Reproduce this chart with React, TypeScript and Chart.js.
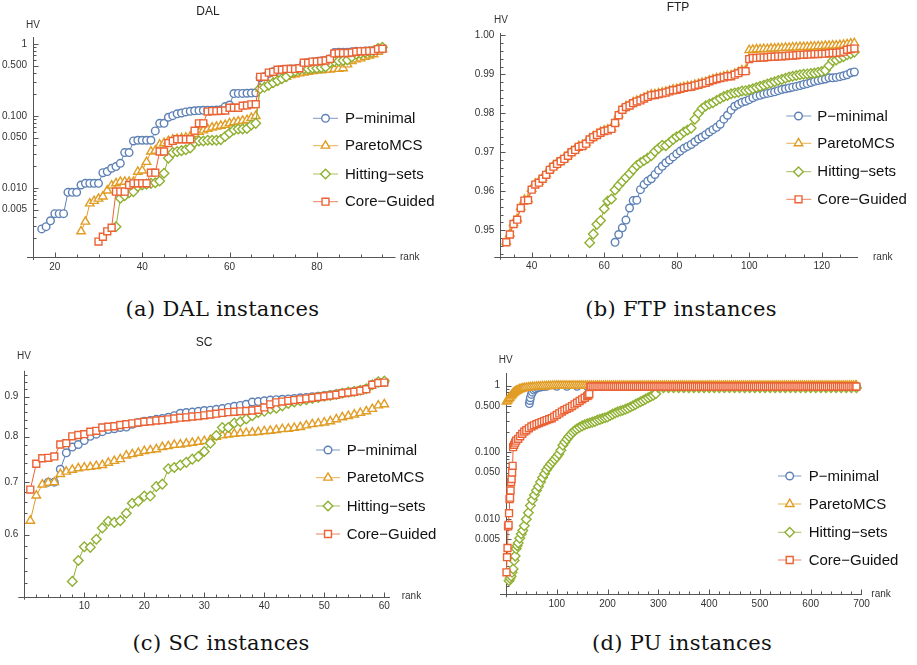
import React, { useEffect, useRef } from "react";
import { Chart, registerables } from "chart.js";

Chart.register(...registerables);

const SANS = '"Liberation Sans", Arial, Helvetica, sans-serif';
const SERIF = '"DejaVu Serif", "Liberation Serif", serif';
const AXIS_COLOR = "#555555";
const TICK_TEXT = "#333333";
const X_AXIS_H = 20;

const SERIES_NAMES = ["P−minimal", "ParetoMCS", "Hitting−sets", "Core−Guided"];
const SERIES_COLORS = ["#5E81B5", "#E19C24", "#8FB032", "#EB6235"];
const SERIES_SHAPES = ["circle", "triangle", "rectRot", "rect"];
const SERIES_RADII = [3.8, 4.9, 4.8, 4.9];

// ---------------- DAL ----------------
const dalPminStart = 17;
const dalPmin = [
  0.0027, 0.0029, 0.0035, 0.0044, 0.0044, 0.0044, 0.0087, 0.0087, 0.0087, 0.011,
  0.0116, 0.0116, 0.0116, 0.0116, 0.0163, 0.0169, 0.0188, 0.0198, 0.022, 0.031,
  0.031, 0.045, 0.046, 0.046, 0.046, 0.046, 0.062, 0.079, 0.079, 0.096,
  0.101, 0.107, 0.11, 0.114, 0.116, 0.118, 0.119, 0.12, 0.12, 0.12,
  0.121, 0.122, 0.135, 0.142, 0.205, 0.206, 0.206, 0.207, 0.208, 0.21,
  0.34, 0.35, 0.39, 0.41, 0.43, 0.44, 0.44, 0.45, 0.45, 0.46,
  0.54, 0.55, 0.56, 0.57, 0.58, 0.59, 0.62, 0.76, 0.77, 0.77,
  0.77, 0.78, 0.79, 0.79, 0.8, 0.8, 0.81, 0.84, 0.85,
];
const dalParetoStart = 26;
const dalPareto = [
  0.0025, 0.0034, 0.0061, 0.0066, 0.0071, 0.0076, 0.0092, 0.0108, 0.0116, 0.0122,
  0.0122, 0.0122, 0.0122, 0.0168, 0.0175, 0.023, 0.032, 0.033, 0.04, 0.042,
  0.045, 0.047, 0.048, 0.049, 0.05, 0.052, 0.056, 0.06, 0.063, 0.066,
  0.069, 0.071, 0.073, 0.075, 0.079, 0.082, 0.084, 0.086, 0.088, 0.094,
  0.1, 0.24, 0.25, 0.27, 0.29, 0.31, 0.33, 0.35, 0.37, 0.38,
  0.39, 0.4, 0.41, 0.42, 0.43, 0.43, 0.44, 0.44, 0.45, 0.45,
  0.46, 0.52, 0.58, 0.61, 0.63, 0.66, 0.69, 0.72, 0.78, 0.84,
];
const dalHittingStart = 34;
const dalHitting = [
  0.0029, 0.0072, 0.0078, 0.0086, 0.0089, 0.0105, 0.011, 0.0113, 0.0116, 0.0118,
  0.0125, 0.016, 0.026, 0.031, 0.032, 0.033, 0.034, 0.036, 0.043, 0.045,
  0.045, 0.046, 0.046, 0.046, 0.047, 0.052, 0.058, 0.064, 0.066, 0.066,
  0.067, 0.075, 0.079, 0.24, 0.25, 0.27, 0.29, 0.31, 0.33, 0.35,
  0.4, 0.42, 0.44, 0.45, 0.45, 0.46, 0.46, 0.47, 0.48, 0.55,
  0.57, 0.58, 0.59, 0.6, 0.66, 0.72, 0.74, 0.76, 0.78, 0.8,
  0.87, 0.9,
];
const dalCoreStart = 30;
const dalCore = [
  0.0018, 0.0021, 0.0025, 0.0028, 0.0089, 0.0089, 0.0089, 0.011, 0.0116, 0.0116,
  0.0116, 0.0116, 0.0163, 0.0163, 0.032, 0.032, 0.042, 0.045, 0.0475, 0.0475,
  0.0475, 0.0475, 0.0625, 0.079, 0.079, 0.115, 0.117, 0.117, 0.118, 0.119,
  0.13, 0.13, 0.13, 0.139, 0.14, 0.145, 0.146, 0.35, 0.35, 0.4,
  0.41, 0.44, 0.44, 0.45, 0.45, 0.45, 0.46, 0.55, 0.55, 0.57,
  0.57, 0.58, 0.59, 0.62, 0.74, 0.75, 0.75, 0.75, 0.76, 0.78,
  0.79, 0.79, 0.8, 0.8, 0.85, 0.86,
];

// ---------------- FTP ----------------
const ftpPminStart = 63;
const ftpPmin = [
  0.9469, 0.9489, 0.9506, 0.9526, 0.9557, 0.9576, 0.9577, 0.9604, 0.9617, 0.9626,
  0.9632, 0.9643, 0.9654, 0.9664, 0.9673, 0.968, 0.9688, 0.9696, 0.9703, 0.971,
  0.9715, 0.972, 0.9727, 0.9734, 0.9739, 0.9745, 0.9752, 0.9758, 0.9764, 0.9772,
  0.9785, 0.9795, 0.9808, 0.9818, 0.9823, 0.9828, 0.9831, 0.9835, 0.984, 0.9844,
  0.9846, 0.9849, 0.9851, 0.9853, 0.9855, 0.9858, 0.9861, 0.9863, 0.9865, 0.9867,
  0.9869, 0.9871, 0.9874, 0.9876, 0.9879, 0.9882, 0.9884, 0.9886, 0.9888, 0.9891,
  0.9891, 0.9892, 0.9894, 0.9896, 0.9899, 0.9904, 0.9906,
];
const ftpParetoStart = 33;
const ftpPareto = [
  0.9471, 0.9491, 0.9518, 0.9529, 0.9559, 0.9578, 0.9579, 0.9606, 0.9619, 0.9624,
  0.9634, 0.9644, 0.9657, 0.9665, 0.9672, 0.9679, 0.9685, 0.9693, 0.9702, 0.9708,
  0.9716, 0.9718, 0.9724, 0.9735, 0.9741, 0.9746, 0.9752, 0.9756, 0.9758, 0.9762,
  0.9777, 0.9797, 0.9811, 0.9818, 0.9822, 0.9828, 0.9832, 0.9835, 0.984, 0.9844,
  0.9848, 0.9849, 0.9851, 0.9853, 0.9855, 0.9858, 0.9861, 0.9862, 0.9865, 0.9867,
  0.9869, 0.987, 0.9873, 0.9875, 0.9878, 0.988, 0.9884, 0.9887, 0.989, 0.9892,
  0.9894, 0.9897, 0.9897, 0.9901, 0.9905, 0.991, 0.991, 0.9962, 0.9963, 0.9964,
  0.9964, 0.9965, 0.9965, 0.9966, 0.9966, 0.9967, 0.9967, 0.9968, 0.9968, 0.9969,
  0.9969, 0.997, 0.997, 0.997, 0.9971, 0.9971, 0.9972, 0.9972, 0.9973, 0.9973,
  0.9974, 0.9974, 0.9975, 0.9976, 0.9977, 0.9979, 0.998,
];
const ftpHittingStart = 56;
const ftpHitting = [
  0.9468, 0.949, 0.9515, 0.9525, 0.9555, 0.9575, 0.958, 0.9603, 0.9615, 0.9625,
  0.9635, 0.9645, 0.9656, 0.9666, 0.9673, 0.9679, 0.9685, 0.9691, 0.9702, 0.971,
  0.9718, 0.9717, 0.9725, 0.9733, 0.974, 0.9744, 0.9752, 0.9757, 0.9762, 0.9785,
  0.98, 0.9812, 0.9819, 0.9824, 0.9827, 0.9833, 0.9838, 0.9843, 0.9846, 0.985,
  0.9852, 0.9854, 0.9857, 0.9858, 0.986, 0.9863, 0.9866, 0.9869, 0.9872, 0.9875,
  0.9878, 0.9881, 0.9884, 0.9887, 0.989, 0.9893, 0.9895, 0.9897, 0.9899, 0.99,
  0.9901, 0.9902, 0.9903, 0.9905, 0.9907, 0.991, 0.9922, 0.9935, 0.9937, 0.9942,
  0.9945, 0.995, 0.9953, 0.9957,
];
const ftpCoreStart = 33;
const ftpCore = [
  0.9469, 0.9489, 0.9516, 0.9527, 0.9557, 0.9576, 0.9577, 0.9604, 0.9617, 0.9622,
  0.9632, 0.9642, 0.9655, 0.9663, 0.967, 0.9677, 0.9683, 0.9691, 0.97, 0.9706,
  0.9714, 0.9716, 0.9722, 0.9733, 0.9739, 0.9744, 0.975, 0.9754, 0.9756, 0.976,
  0.9775, 0.9795, 0.9809, 0.9816, 0.982, 0.9826, 0.983, 0.9833, 0.9838, 0.9842,
  0.9846, 0.9847, 0.9849, 0.9851, 0.9853, 0.9856, 0.9859, 0.986, 0.9863, 0.9865,
  0.9867, 0.9868, 0.9871, 0.9873, 0.9876, 0.9878, 0.9882, 0.9885, 0.9888, 0.989,
  0.9892, 0.9895, 0.9895, 0.9899, 0.9903, 0.9908, 0.9908, 0.9939, 0.9942, 0.9942,
  0.9943, 0.9943, 0.9944, 0.9945, 0.9945, 0.9946, 0.9946, 0.9947, 0.9948, 0.9948,
  0.9949, 0.995, 0.995, 0.9951, 0.9951, 0.9952, 0.9952, 0.9953, 0.9953, 0.9954,
  0.9955, 0.9955, 0.9956, 0.9958, 0.9963, 0.9965, 0.9966,
];

// ---------------- SC ----------------
const scPminStart = 4;
const scPmin = [
  0.7, 0.7, 0.727, 0.763, 0.776, 0.782, 0.791, 0.801, 0.806, 0.812,
  0.817, 0.819, 0.822, 0.823, 0.83, 0.834, 0.837, 0.839, 0.842, 0.844,
  0.847, 0.851, 0.857, 0.859, 0.86, 0.862, 0.864, 0.865, 0.867, 0.869,
  0.872, 0.875, 0.877, 0.88, 0.886, 0.887, 0.889, 0.891, 0.892, 0.893,
  0.894, 0.895, 0.897, 0.898, 0.9, 0.901, 0.903, 0.905, 0.907, 0.91,
  0.912, 0.914, 0.917, 0.921, 0.932, 0.937, 0.939,
];
const scParetoStart = 1;
const scPareto = [
  0.625, 0.673, 0.695, 0.699, 0.7, 0.717, 0.722, 0.726, 0.729, 0.731,
  0.732, 0.734, 0.736, 0.741, 0.745, 0.749, 0.757, 0.76, 0.763, 0.767,
  0.769, 0.771, 0.776, 0.778, 0.781, 0.782, 0.784, 0.786, 0.788, 0.79,
  0.792, 0.8, 0.803, 0.805, 0.807, 0.808, 0.809, 0.81, 0.811, 0.813,
  0.814, 0.816, 0.818, 0.819, 0.821, 0.823, 0.827, 0.83, 0.832, 0.834,
  0.837, 0.842, 0.847, 0.85, 0.854, 0.858, 0.862, 0.868, 0.877, 0.88,
];
const scHittingStart = 8;
const scHitting = [
  0.523, 0.556, 0.579, 0.578, 0.592, 0.612, 0.624, 0.622, 0.625, 0.639,
  0.658, 0.662, 0.672, 0.672, 0.691, 0.696, 0.728, 0.731, 0.736, 0.742,
  0.749, 0.755, 0.766, 0.785, 0.803, 0.822, 0.822, 0.833, 0.836, 0.843,
  0.851, 0.859, 0.862, 0.868, 0.87, 0.876, 0.882, 0.886, 0.889, 0.892,
  0.895, 0.898, 0.901, 0.903, 0.906, 0.909, 0.912, 0.914, 0.917, 0.921,
  0.932, 0.94, 0.942,
];
const scCoreStart = 1;
const scCore = [
  0.685, 0.739, 0.751, 0.752, 0.755, 0.782, 0.785, 0.801, 0.804, 0.806,
  0.812, 0.814, 0.822, 0.824, 0.825, 0.828, 0.83, 0.832, 0.834, 0.836,
  0.837, 0.839, 0.84, 0.842, 0.844, 0.846, 0.847, 0.849, 0.85, 0.852,
  0.854, 0.856, 0.858, 0.86, 0.861, 0.862, 0.863, 0.864, 0.866, 0.872,
  0.88, 0.885, 0.887, 0.889, 0.891, 0.893, 0.895, 0.897, 0.899, 0.901,
  0.903, 0.905, 0.909, 0.911, 0.913, 0.916, 0.92, 0.932, 0.937, 0.938,
];

// ---------------- PU (sampled ranks) ----------------
const puTailRank = [
  100, 104, 108, 112, 116, 120, 124, 128, 132, 136, 140, 144, 148, 152, 156, 160, 164, 168, 172, 176,
  180, 184, 188, 192, 196, 200, 204, 208, 212, 216, 220, 224, 228, 232, 236, 240, 244, 248, 252, 256,
  260, 264, 268, 272, 276, 280, 284, 288, 292, 296, 300, 304, 308, 312, 316, 320, 324, 328, 332, 336,
  340, 344, 348, 352, 356, 360, 364, 368, 372, 376, 380, 384, 388, 392, 396, 400, 404, 408, 412, 416,
  420, 424, 428, 432, 436, 440, 444, 448, 452, 456, 460, 464, 468, 472, 476, 480, 484, 488, 492, 496,
  500, 504, 508, 512, 516, 520, 524, 528, 532, 536, 540, 544, 548, 552, 556, 560, 564, 568, 572, 576,
  580, 584, 588, 592, 596, 600, 604, 608, 612, 616, 620, 624, 628, 632, 636, 640, 644, 648, 652, 656,
  660, 664, 668, 672, 676, 680, 684, 688, 690,
];
const puPminRank = [
  46, 47, 48, 50, 52, 55, 58, 62, 66, 70, 75, 80,
  100, 120, 140, 160, 180, 200, 220, 240, 260, 280, 300, 320, 340, 360, 380, 400, 420, 440, 460,
  480, 500, 520, 540, 560, 580, 600, 620, 640, 660, 680, 690,
];
const puPmin = [
  0.54, 0.6, 0.66, 0.74, 0.8, 0.86, 0.9, 0.93, 0.95, 0.96, 0.97, 0.98,
  0.98, 0.98, 0.98, 0.98, 0.98, 0.98, 0.98, 0.98, 0.98, 0.98, 0.98, 0.98, 0.98, 0.98, 0.98, 0.98, 0.98, 0.98, 0.98,
  0.98, 0.98, 0.98, 0.98, 0.98, 0.98, 0.98, 0.98, 0.98, 0.98, 0.98, 0.98,
];
const puParetoHeadRank = [
  1, 3, 5, 7, 9, 11, 13, 15, 17, 19, 21, 24, 27, 30, 33, 36, 40, 44, 48, 52,
  56, 60, 64, 68, 72, 76, 80, 84, 88, 92, 96,
];
const puParetoHead = [
  0.58, 0.6, 0.63, 0.66, 0.69, 0.72, 0.75, 0.78, 0.8, 0.82, 0.84, 0.86, 0.88, 0.895, 0.91, 0.92, 0.93, 0.94, 0.95, 0.955,
  0.96, 0.965, 0.97, 0.975, 0.978, 0.98, 0.983, 0.986, 0.99, 0.993, 0.996,
];
const puParetoTail = [
  1, 1, 1, 1, 1, 1, 1, 1, 1, 1, 1, 1, 1, 1, 1, 1, 1, 1, 1, 1,
  1, 1, 1, 1, 1, 1, 1, 1, 1, 1, 1, 1, 1, 1, 1, 1, 1, 1, 1, 1,
  1, 1, 1, 1, 1, 1, 1, 1, 1, 1, 1, 1, 1, 1, 1, 1, 1, 1, 1, 1,
  1, 1, 1, 1, 1, 1, 1, 1, 1, 1, 1, 1, 1, 1, 1, 1, 1, 1, 1, 1,
  1, 1, 1, 1, 1, 1, 1, 1, 1, 1, 1, 1, 1, 1, 1, 1, 1, 1, 1, 1,
  1, 1, 1, 1, 1, 1, 1, 1, 1, 1, 1, 1, 1, 1, 1, 1, 1, 1, 1, 1,
  1, 1, 1, 1, 1, 1, 1, 1, 1, 1, 1, 1, 1, 1, 1, 1, 1, 1, 1, 1,
  1, 1, 1, 1, 1, 1, 1, 1, 1,
];
const puHittingRank = [
  6, 8, 10, 12, 14, 16, 18, 20, 22, 24, 27, 30, 33, 36, 40, 44, 48, 52, 56, 60,
  64, 68, 72, 76, 80, 84, 88, 92, 96, 100, 104, 108, 112, 116, 120, 124, 128, 132, 136, 140,
  145, 150, 155, 160, 165, 170, 175, 180, 185, 190, 195, 200, 205, 210, 215, 220, 225, 230, 235, 240,
  245, 250, 255, 260, 265, 270, 275, 280, 285, 290, 295,
  300, 310, 320, 330, 340, 350, 360, 370, 380, 390, 400, 410, 420, 430, 440, 450, 460, 470, 480, 490,
  500, 510, 520, 530, 540, 550, 560, 570, 580, 590, 600, 610, 620, 630, 640, 650, 660, 670, 680, 690,
];
const puHitting = [
  0.0012, 0.0013, 0.0014, 0.0016, 0.0018, 0.0024, 0.0028, 0.0036, 0.004, 0.0044, 0.0052, 0.006, 0.0068, 0.008, 0.01, 0.0125, 0.016, 0.0195, 0.023, 0.027,
  0.031, 0.036, 0.042, 0.048, 0.055, 0.061, 0.067, 0.073, 0.079, 0.086, 0.095, 0.108, 0.128, 0.143, 0.158, 0.173, 0.188, 0.202, 0.215, 0.226,
  0.238, 0.25, 0.26, 0.269, 0.277, 0.285, 0.292, 0.305, 0.313, 0.322, 0.331, 0.34, 0.357, 0.375, 0.39, 0.405, 0.418, 0.43, 0.445, 0.46,
  0.48, 0.5, 0.525, 0.55, 0.575, 0.6, 0.63, 0.66, 0.69, 0.72, 0.76,
  0.93, 0.93, 0.93, 0.93, 0.93, 0.93, 0.93, 0.93, 0.93, 0.93, 0.93, 0.93, 0.93, 0.93, 0.93, 0.93, 0.93, 0.93, 0.93, 0.93,
  0.93, 0.93, 0.93, 0.93, 0.93, 0.93, 0.93, 0.93, 0.93, 0.93, 0.93, 0.93, 0.93, 0.93, 0.93, 0.93, 0.93, 0.93, 0.93, 0.93,
];
const puCoreHeadRank = [
  1, 2, 3, 4, 5, 6, 7, 8, 9, 10, 11, 12, 13, 14, 16, 18, 20, 24, 28, 32,
  36, 40, 45, 50, 55, 60, 65, 70, 75, 80, 85, 90, 95, 100, 105, 110, 115, 120, 125, 130,
  135, 140, 145, 150, 155, 160, 162, 164, 166, 168,
];
const puCoreHead = [
  0.0016, 0.0027, 0.0037, 0.0078, 0.0082, 0.0123, 0.02, 0.021, 0.027, 0.036, 0.04, 0.05, 0.063, 0.12, 0.13, 0.14, 0.15, 0.16, 0.175, 0.19,
  0.205, 0.215, 0.23, 0.245, 0.255, 0.265, 0.275, 0.285, 0.295, 0.305, 0.315, 0.325, 0.345, 0.365, 0.385, 0.41, 0.43, 0.45, 0.47, 0.495,
  0.525, 0.555, 0.59, 0.625, 0.66, 0.7, 0.72, 0.75, 0.96, 0.97,
];
const puCoreTailFrom = 172;
const puCoreTail = [
  0.97, 0.97, 0.97, 0.97, 0.97, 0.97, 0.97, 0.97, 0.97, 0.97, 0.97, 0.97, 0.97, 0.97, 0.97, 0.97, 0.97, 0.97, 0.97, 0.97,
  0.97, 0.97, 0.97, 0.97, 0.97, 0.97, 0.97, 0.97, 0.97, 0.97, 0.97, 0.97, 0.97, 0.97, 0.97, 0.97, 0.97, 0.97, 0.97, 0.97,
  0.97, 0.97, 0.97, 0.97, 0.97, 0.97, 0.97, 0.97, 0.97, 0.97, 0.97, 0.97, 0.97, 0.97, 0.97, 0.97, 0.97, 0.97, 0.97, 0.97,
  0.97, 0.97, 0.97, 0.97, 0.97, 0.97, 0.97, 0.97, 0.97, 0.97, 0.97, 0.97, 0.97, 0.97, 0.97, 0.97, 0.97, 0.97, 0.97, 0.97,
  0.97, 0.97, 0.97, 0.97, 0.97, 0.97, 0.97, 0.97, 0.97, 0.97, 0.97, 0.97, 0.97, 0.97, 0.97, 0.97, 0.97, 0.97, 0.97, 0.97,
  0.97, 0.97, 0.97, 0.97, 0.97, 0.97, 0.97, 0.97, 0.97, 0.97, 0.97, 0.97, 0.97, 0.97, 0.97, 0.97, 0.97, 0.97, 0.97, 0.97,
  0.97, 0.97, 0.97, 0.97, 0.97, 0.97, 0.97, 0.97, 0.97, 0.97, 0.97,
];

// ---------------- ticks ----------------
const logMajor = [0.005, 0.01, 0.05, 0.1, 0.5, 1];
const logMajorLabels = ["0.005", "0.010", "0.050", "0.100", "0.500", "1"];
const logMinor = [0.001, 0.002, 0.003, 0.004, 0.006, 0.007, 0.008, 0.009, 0.02, 0.03, 0.04, 0.06, 0.07, 0.08, 0.09, 0.2, 0.3, 0.4, 0.6, 0.7, 0.8, 0.9];
const dalXMajor = [20, 40, 60, 80];
const dalXMinor = [25, 30, 35, 45, 50, 55, 65, 70, 75, 85, 90, 95];
const ftpXMajor = [40, 60, 80, 100, 120];
const ftpXMinor = [35, 45, 50, 55, 65, 70, 75, 85, 90, 95, 105, 110, 115, 125];
const ftpYMajor = [0.95, 0.96, 0.97, 0.98, 0.99, 1.0];
const ftpYLabels = ["0.95", "0.96", "0.97", "0.98", "0.99", "1.00"];
const ftpYMinor = [0.944, 0.946, 0.948, 0.952, 0.954, 0.956, 0.958, 0.962, 0.964, 0.966, 0.968, 0.972, 0.974, 0.976, 0.978, 0.982, 0.984, 0.986, 0.988, 0.992, 0.994, 0.996, 0.998];
const scXMajor = [10, 20, 30, 40, 50, 60];
const scXMinor = [2, 4, 6, 8, 12, 14, 16, 18, 22, 24, 26, 28, 32, 34, 36, 38, 42, 44, 46, 48, 52, 54, 56, 58];
const scYMajor = [0.6, 0.7, 0.8, 0.9];
const scYLabels = ["0.6", "0.7", "0.8", "0.9"];
const scYMinor = [0.52, 0.54, 0.56, 0.58, 0.62, 0.64, 0.66, 0.68, 0.72, 0.74, 0.76, 0.78, 0.82, 0.84, 0.86, 0.88, 0.92, 0.94, 0.96];
const puXMajor = [100, 200, 300, 400, 500, 600, 700];
const puXMinor = [20, 40, 60, 80, 120, 140, 160, 180, 220, 240, 260, 280, 320, 340, 360, 380, 420, 440, 460, 480, 520, 540, 560, 580, 620, 640, 660, 680];

// ---------------- helpers ----------------
type Pt = { x: number; y: number };
const consecutive = (start: number, values: number[]): Pt[] => values.map((v, i) => ({ x: start + i, y: v }));
const paired = (ranks: number[], values: number[]): Pt[] =>
  ranks.map((r, i) => ({ x: r, y: values[i] })).filter((p) => p.y !== undefined);

type PanelCfg = {
  key: string;
  left: number; top: number; width: number; height: number;
  ca: { left: number; right: number; top: number; bottom: number };
  xMin: number; xMax: number; yMin: number; yMax: number; yLog: boolean;
  xMajor: number[]; xMinor: number[];
  yMajor: number[]; yLabels: string[]; yMinor: number[];
  title?: { text: string; x: number; y: number };
  hv: { x: number; y: number };
  rank: { x: number; y: number };
  legend: { x0: number; x1: number; mx: number; tx: number; ys: number[] };
  series: Pt[][];
};

const PANELS: PanelCfg[] = [
  {
    key: "dal", left: 0, top: 0, width: 458, height: 290,
    ca: { left: 33, right: 395.5, top: 37, bottom: 257 },
    xMin: 15, xMax: 98, yMin: 0.0011, yMax: 1.25, yLog: true,
    xMajor: dalXMajor, xMinor: dalXMinor, yMajor: logMajor, yLabels: logMajorLabels, yMinor: logMinor,
    title: { text: "DAL", x: 208, y: 12 },
    hv: { x: 33, y: 25 }, rank: { x: 400, y: 257 },
    legend: { x0: 313, x1: 338, mx: 325.5, tx: 345, ys: [118.3, 145.7, 174, 201.7] },
    series: [
      consecutive(dalPminStart, dalPmin), consecutive(dalParetoStart, dalPareto),
      consecutive(dalHittingStart, dalHitting), consecutive(dalCoreStart, dalCore),
    ],
  },
  {
    key: "ftp", left: 458, top: 0, width: 459, height: 290,
    ca: { left: 42.3, right: 400, top: 33, bottom: 256.7 },
    xMin: 31.35, xMax: 130, yMin: 0.9432, yMax: 1.0006, yLog: false,
    xMajor: ftpXMajor, xMinor: ftpXMinor, yMajor: ftpYMajor, yLabels: ftpYLabels, yMinor: ftpYMinor,
    title: { text: "FTP", x: 220, y: 7.5 },
    hv: { x: 43, y: 20.5 }, rank: { x: 415, y: 257 },
    legend: { x0: 328.3, x1: 353.3, mx: 340.5, tx: 359.3, ys: [116, 143.3, 171.7, 199.3] },
    series: [
      consecutive(ftpPminStart, ftpPmin), consecutive(ftpParetoStart, ftpPareto),
      consecutive(ftpHittingStart, ftpHitting), consecutive(ftpCoreStart, ftpCore),
    ],
  },
  {
    key: "sc", left: 0, top: 330, width: 458, height: 290,
    ca: { left: 24.3, right: 390, top: 40.8, bottom: 266.7 },
    xMin: 0, xMax: 60.95, yMin: 0.5, yMax: 0.971, yLog: true,
    xMajor: scXMajor, xMinor: scXMinor, yMajor: scYMajor, yLabels: scYLabels, yMinor: scYMinor,
    title: { text: "SC", x: 204, y: 12.7 },
    hv: { x: 24, y: 26 }, rank: { x: 401.7, y: 266.7 },
    legend: { x0: 316, x1: 340, mx: 328, tx: 346.7, ys: [120, 147.7, 176, 204] },
    series: [
      consecutive(scPminStart, scPmin), consecutive(scParetoStart, scPareto),
      consecutive(scHittingStart, scHitting), consecutive(scCoreStart, scCore),
    ],
  },
  {
    key: "pu", left: 458, top: 330, width: 459, height: 290,
    ca: { left: 48, right: 404, top: 43, bottom: 264.3 },
    xMin: 0, xMax: 701, yMin: 0.00075, yMax: 1.55, yLog: true,
    xMajor: puXMajor, xMinor: puXMinor, yMajor: logMajor, yLabels: logMajorLabels, yMinor: logMinor,
    hv: { x: 47.8, y: 30.7 }, rank: { x: 413.3, y: 264.3 },
    legend: { x0: 320, x1: 343.3, mx: 331.7, tx: 350.7, ys: [146, 174, 202.3, 230] },
    series: [
      paired(puPminRank, puPmin),
      [...paired(puParetoHeadRank, puParetoHead), ...paired(puTailRank, puParetoTail)],
      paired(puHittingRank, puHitting),
      [...paired(puCoreHeadRank, puCoreHead), ...paired(puTailRank.filter((r) => r >= puCoreTailFrom), puCoreTail)],
    ],
  },
];

const CAPTIONS = [
  { text: "(a) DAL instances", cx: 222.5, cy: 309.3 },
  { text: "(b) FTP instances", cx: 681, cy: 309.3 },
  { text: "(c) SC instances", cx: 221, cy: 643 },
  { text: "(d) PU instances", cx: 682, cy: 643 },
];

function drawMarker(ctx: CanvasRenderingContext2D, shape: string, x: number, y: number, r: number) {
  ctx.beginPath();
  if (shape === "circle") {
    ctx.arc(x, y, r, 0, Math.PI * 2);
  } else if (shape === "triangle") {
    let a = 0;
    ctx.moveTo(x + Math.sin(a) * r, y - Math.cos(a) * r);
    a += (2 * Math.PI) / 3;
    ctx.lineTo(x + Math.sin(a) * r, y - Math.cos(a) * r);
    a += (2 * Math.PI) / 3;
    ctx.lineTo(x + Math.sin(a) * r, y - Math.cos(a) * r);
    ctx.closePath();
  } else if (shape === "rectRot") {
    ctx.moveTo(x - r, y);
    ctx.lineTo(x, y - r);
    ctx.lineTo(x + r, y);
    ctx.lineTo(x, y + r);
    ctx.closePath();
  } else {
    const s = Math.SQRT1_2 * r;
    ctx.rect(x - s, y - s, 2 * s, 2 * s);
  }
  ctx.fill();
  ctx.stroke();
}

function makePlugin(cfg: PanelCfg) {
  return {
    id: "mmaAxes_" + cfg.key,
    beforeDatasetsDraw(chart: any) {
      const ctx: CanvasRenderingContext2D = chart.ctx;
      const ca = chart.chartArea;
      const xs = chart.scales.x;
      const ys = chart.scales.y;
      const yb = Math.round(ca.bottom) + 0.5;
      const xl = Math.round(ca.left) + 0.5;
      ctx.save();
      ctx.strokeStyle = AXIS_COLOR;
      ctx.lineWidth = 1;
      ctx.beginPath();
      ctx.moveTo(ca.left - 6, yb);
      ctx.lineTo(ca.right, yb);
      ctx.moveTo(xl, ca.top);
      ctx.lineTo(xl, ca.bottom + 3);
      ctx.stroke();
      ctx.beginPath();
      cfg.xMajor.forEach((v) => {
        const p = Math.round(xs.getPixelForValue(v)) + 0.5;
        ctx.moveTo(p, yb);
        ctx.lineTo(p, yb - 5);
      });
      cfg.xMinor.forEach((v) => {
        const p = Math.round(xs.getPixelForValue(v)) + 0.5;
        ctx.moveTo(p, yb);
        ctx.lineTo(p, yb - 3);
      });
      cfg.yMajor.forEach((v) => {
        const p = Math.round(ys.getPixelForValue(v)) + 0.5;
        ctx.moveTo(xl, p);
        ctx.lineTo(xl + 5, p);
      });
      cfg.yMinor.forEach((v) => {
        if (v < cfg.yMin || v > cfg.yMax) return;
        const p = Math.round(ys.getPixelForValue(v)) + 0.5;
        ctx.moveTo(xl, p);
        ctx.lineTo(xl + 3, p);
      });
      ctx.stroke();
      ctx.restore();
    },
    afterDraw(chart: any) {
      const ctx: CanvasRenderingContext2D = chart.ctx;
      ctx.save();
      ctx.textBaseline = "middle";
      if (cfg.title) {
        ctx.font = `12px ${SANS}`;
        ctx.fillStyle = "#222";
        ctx.textAlign = "center";
        ctx.fillText(cfg.title.text, cfg.title.x, cfg.title.y);
      }
      ctx.font = `10px ${SANS}`;
      ctx.fillStyle = TICK_TEXT;
      ctx.textAlign = "center";
      ctx.fillText("HV", cfg.hv.x, cfg.hv.y);
      ctx.textAlign = "left";
      ctx.fillText("rank", cfg.rank.x, cfg.rank.y);
      // legend
      const lg = cfg.legend;
      ctx.font = `15px ${SANS}`;
      lg.ys.forEach((y, i) => {
        ctx.globalAlpha = 0.8;
        ctx.strokeStyle = SERIES_COLORS[i];
        ctx.lineWidth = 1;
        ctx.beginPath();
        ctx.moveTo(lg.x0, y);
        ctx.lineTo(lg.x1, y);
        ctx.stroke();
        ctx.globalAlpha = 1;
        ctx.lineWidth = 1.4;
        ctx.fillStyle = "#ffffff";
        drawMarker(ctx, SERIES_SHAPES[i], lg.mx, y, SERIES_RADII[i]);
        ctx.fillStyle = "#111";
        ctx.fillText(SERIES_NAMES[i], lg.tx, y + 0.5);
      });
      ctx.restore();
    },
  };
}

function buildConfig(cfg: PanelCfg): any {
  const padding = {
    left: 0,
    top: cfg.ca.top,
    right: cfg.width - cfg.ca.right,
    bottom: cfg.height - cfg.ca.bottom - X_AXIS_H,
  };
  const tickFont = { family: SANS, size: 10 };
  return {
    type: "line",
    data: {
      datasets: cfg.series.map((data, i) => ({
        label: SERIES_NAMES[i],
        data,
        borderColor: SERIES_COLORS[i],
        backgroundColor: "#ffffff",
        borderWidth: 1,
        pointStyle: SERIES_SHAPES[i],
        pointRadius: SERIES_RADII[i],
        pointHoverRadius: SERIES_RADII[i],
        pointBorderWidth: 1.4,
        pointBorderColor: SERIES_COLORS[i],
        pointBackgroundColor: "#ffffff",
        tension: 0,
        clip: false,
        order: 3 - i,
      })),
    },
    options: {
      animation: false,
      responsive: false,
      maintainAspectRatio: false,
      events: [],
      layout: { padding },
      plugins: { legend: { display: false }, tooltip: { enabled: false }, title: { display: false } },
      scales: {
        x: {
          type: "linear",
          min: cfg.xMin,
          max: cfg.xMax,
          grid: { display: false, drawTicks: false },
          border: { display: false },
          ticks: {
            autoSkip: false, maxRotation: 0, minRotation: 0, padding: 4,
            color: TICK_TEXT, font: tickFont,
            callback: (v: any) => String(v),
          },
          afterBuildTicks: (s: any) => { s.ticks = cfg.xMajor.map((v) => ({ value: v })); },
          afterFit: (s: any) => { s.height = X_AXIS_H; s.paddingLeft = 0; s.paddingRight = 0; },
        },
        y: {
          type: cfg.yLog ? "logarithmic" : "linear",
          min: cfg.yMin,
          max: cfg.yMax,
          grid: { display: false, drawTicks: false },
          border: { display: false },
          ticks: {
            autoSkip: false, padding: 6, color: TICK_TEXT, font: tickFont,
            callback: (_v: any, i: number) => cfg.yLabels[i],
          },
          afterBuildTicks: (s: any) => { s.ticks = cfg.yMajor.map((v) => ({ value: v })); },
          afterFit: (s: any) => { s.width = cfg.ca.left; s.paddingTop = 0; s.paddingBottom = 0; },
        },
      },
    },
    plugins: [makePlugin(cfg)],
  };
}

function PanelChart({ cfg }: { cfg: PanelCfg }) {
  const ref = useRef<HTMLCanvasElement | null>(null);
  useEffect(() => {
    if (!ref.current) return;
    const chart = new Chart(ref.current, buildConfig(cfg));
    return () => chart.destroy();
  }, [cfg]);
  return (
    <canvas
      ref={ref}
      width={cfg.width}
      height={cfg.height}
      style={{ position: "absolute", left: cfg.left, top: cfg.top, width: cfg.width, height: cfg.height }}
    />
  );
}

export default function App() {
  return (
    <div style={{ position: "absolute", left: 0, top: 0, width: 917, height: 665, background: "#ffffff", overflow: "hidden" }}>
      {PANELS.map((p) => (
        <PanelChart key={p.key} cfg={p} />
      ))}
      {CAPTIONS.map((c) => (
        <div
          key={c.text}
          style={{
            position: "absolute", left: c.cx - 229, top: c.cy - 13, width: 458, height: 26,
            lineHeight: "26px", textAlign: "center", fontFamily: SERIF, fontSize: 21, letterSpacing: "0.3px",
            color: "#111", whiteSpace: "nowrap",
          }}
        >
          {c.text}
        </div>
      ))}
    </div>
  );
}
